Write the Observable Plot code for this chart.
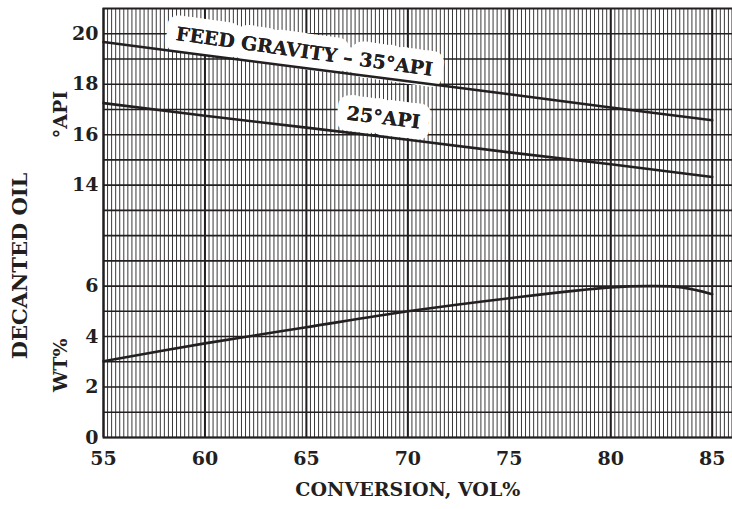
<!DOCTYPE html>
<html><head><meta charset="utf-8">
<script src="https://cdn.jsdelivr.net/npm/d3@7"></script>
<script src="https://cdn.jsdelivr.net/npm/@observablehq/plot@0.6"></script>
<style>body{margin:0;background:#fff}</style>
</head><body><div id="chart"></div>
<script>
// Conversion, vol%
const conversion = [55, 60, 65, 70, 75, 80, 85];
// Decanted oil gravity, °API
const api35 = [19.67, 19.15, 18.63, 18.12, 17.6, 17.08, 16.57];
const api25 = [17.25, 16.75, 16.28, 15.8, 15.3, 14.83, 14.32];
// Decanted oil yield, wt%
const wtConversion = [55, 60, 65, 70, 75, 80, 82, 83.5, 85];
const wtPct = [3.02, 3.73, 4.37, 5.0, 5.52, 5.95, 6.0, 5.95, 5.68];
// tick labels
const xTicks = [55, 60, 65, 70, 75, 80, 85];
const wtTicks = [0, 2, 4, 6];
const apiTicks = [14, 16, 18, 20];
const apiShift = 4; // broken axis: °API drawn 4 units lower than its value
const labels = [
  {text: "FEED GRAVITY – 35°API", x: 64.9, api: 19.28, rotate: 8},
  {text: "25°API", x: 68.8, api: 16.66, rotate: 7}
];

const ink = "#231f20";
const font = "'DejaVu Serif', serif";
const yTickPos = [...wtTicks, ...apiTicks.map(v => v - apiShift)];
const yTickText = [...wtTicks, ...apiTicks].map(String);

const pts = (xs, ys, shift = 0) => xs.map((x, i) => ({x, y: ys[i] - shift}));

const chart = Plot.plot({
  width: 732,
  height: 509,
  marginLeft: 103,
  marginRight: 0,
  marginTop: 8,
  marginBottom: 72,
  style: {fontFamily: font, fontWeight: "bold", fontSize: "19px", color: ink, background: "#fff"},
  x: {domain: [55, 86]},
  y: {domain: [0, 17]},
  marks: [
    Plot.gridX(d3.range(55, 86.01, 0.2).map(v => +v.toFixed(1)), {stroke: "#3a3a3a", strokeOpacity: 1, strokeWidth: 1}),
    Plot.gridX(xTicks, {stroke: ink, strokeOpacity: 1, strokeWidth: 2}),
    Plot.gridY(d3.range(0, 17), {stroke: ink, strokeOpacity: 1, strokeWidth: 1.6}),
    Plot.frame({stroke: ink, strokeWidth: 2}),
    Plot.axisX(xTicks, {tickSize: 0, tickPadding: 14, label: null, fontSize: 19, fill: ink}),
    Plot.axisY(yTickPos, {tickSize: 0, tickPadding: 5, label: null, fontSize: 19, fill: ink,
      tickFormat: d => yTickText[yTickPos.indexOf(d)]}),
    Plot.text(labels, {x: "x", y: d => d.api - apiShift, text: "text", rotate: d => d.rotate,
      fontSize: 19, letterSpacing: 1.2, fill: ink, stroke: "white", strokeWidth: 22, strokeLinejoin: "round", paintOrder: "stroke"}),
    Plot.line(pts(conversion, api35, apiShift), {x: "x", y: "y", stroke: ink, strokeWidth: 2.6}),
    Plot.line(pts(conversion, api25, apiShift), {x: "x", y: "y", stroke: ink, strokeWidth: 2.6}),
    Plot.line(pts(wtConversion, wtPct), {x: "x", y: "y", stroke: ink, strokeWidth: 2.6, curve: "catmull-rom"}),
    Plot.text(labels, {x: "x", y: d => d.api - apiShift, text: "text", rotate: d => d.rotate,
      fontSize: 19, letterSpacing: 1.2, fill: ink}),
    Plot.text(["CONVERSION, VOL%"], {x: 70, frameAnchor: "bottom", dy: 58, fontSize: 19, letterSpacing: 1.2, fill: ink}),
    Plot.text(["°API"], {frameAnchor: "left", textAnchor: "middle", y: 12.8, dx: -43, rotate: -90, fontSize: 19, letterSpacing: 1, fill: ink}),
    Plot.text(["WT%"], {frameAnchor: "left", textAnchor: "middle", y: 2.86, dx: -43, rotate: -90, fontSize: 19, fill: ink}),
    Plot.text(["DECANTED OIL"], {frameAnchor: "left", textAnchor: "middle", y: 6.8, dx: -83, rotate: -90, fontSize: 21, letterSpacing: 2, fill: ink})
  ]
});
document.getElementById("chart").append(chart);
</script>
</body></html>
